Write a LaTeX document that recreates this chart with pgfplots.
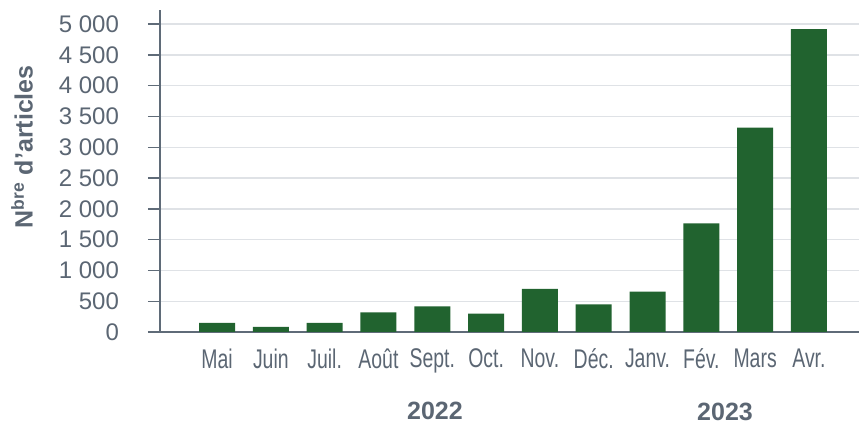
\documentclass[border=0pt]{standalone}
\usepackage{pgfplots}
\pgfplotsset{compat=1.18}
\usepackage{graphicx}
\usepackage{fontspec}
\setmainfont{Liberation Sans}
\definecolor{barg}{HTML}{21632F}
\definecolor{txt}{HTML}{5B6673}
\definecolor{axc}{HTML}{5F6B78}
\definecolor{gridc}{HTML}{DFE2E6}
\newcommand{\cn}[1]{\scalebox{0.72}[1]{#1}}
\begin{document}
\begin{tikzpicture}
\begin{axis}[
  at={(0,0)}, anchor=south west,
  scale only axis, width=349.5pt, height=161pt,
  xmin=-1.06, xmax=11.93, ymin=0, ymax=5230,
  axis lines*=left,
  axis line style={axc, line width=0.9pt, -},
  ytick={0,500,...,5000},
  ymajorgrids, grid style={gridc, line width=0.7pt},
  major tick length=6pt,
  tick align=outside,
  ytick style={axc, line width=0.7pt},
  xtick=data, xtick style={draw=none},
  xticklabels={\cn{Mai},\cn{Juin},\cn{Juil.},\cn{Août},\cn{Sept.},\cn{Oct.},\cn{Nov.},\cn{Déc.},\cn{Janv.},\cn{Fév.},\cn{Mars},\cn{Avr.}},
  x tick label style={font=\fontsize{13.5}{15}\selectfont, text=txt, yshift=1pt},
  y tick label style={font=\fontsize{12}{14}\selectfont, text=txt, xshift=-11pt},
  /pgf/number format/assume math mode=true,
  /pgf/number format/1000 sep={\ },
  clip=false,
]
\addplot[ybar, bar width=18pt, fill=barg, draw=none] coordinates {
(0,150) (1,85) (2,150) (3,320) (4,415) (5,300) (6,700) (7,450) (8,655) (9,1765) (10,3320) (11,4920)};
\draw[axc, line width=0.9pt] (rel axis cs:0,0) -- ++(-12.5pt,0);
\node[text=txt, font=\bfseries\fontsize{12.5}{14}\selectfont, rotate=90] at ([xshift=-69pt]rel axis cs:0,0.575) {N\textsuperscript{bre} d'articles};
\node[text=txt, font=\bfseries\fontsize{12.5}{14}\selectfont] at ([yshift=-39.5pt]axis cs:4.05,0) {2022};
\node[text=txt, font=\bfseries\fontsize{12.5}{14}\selectfont] at ([yshift=-40pt]axis cs:9.44,0) {2023};
\end{axis}
\pgfresetboundingbox
\path (-80pt,-45.5pt) rectangle (349.5pt,166pt);
\end{tikzpicture}
\end{document}
